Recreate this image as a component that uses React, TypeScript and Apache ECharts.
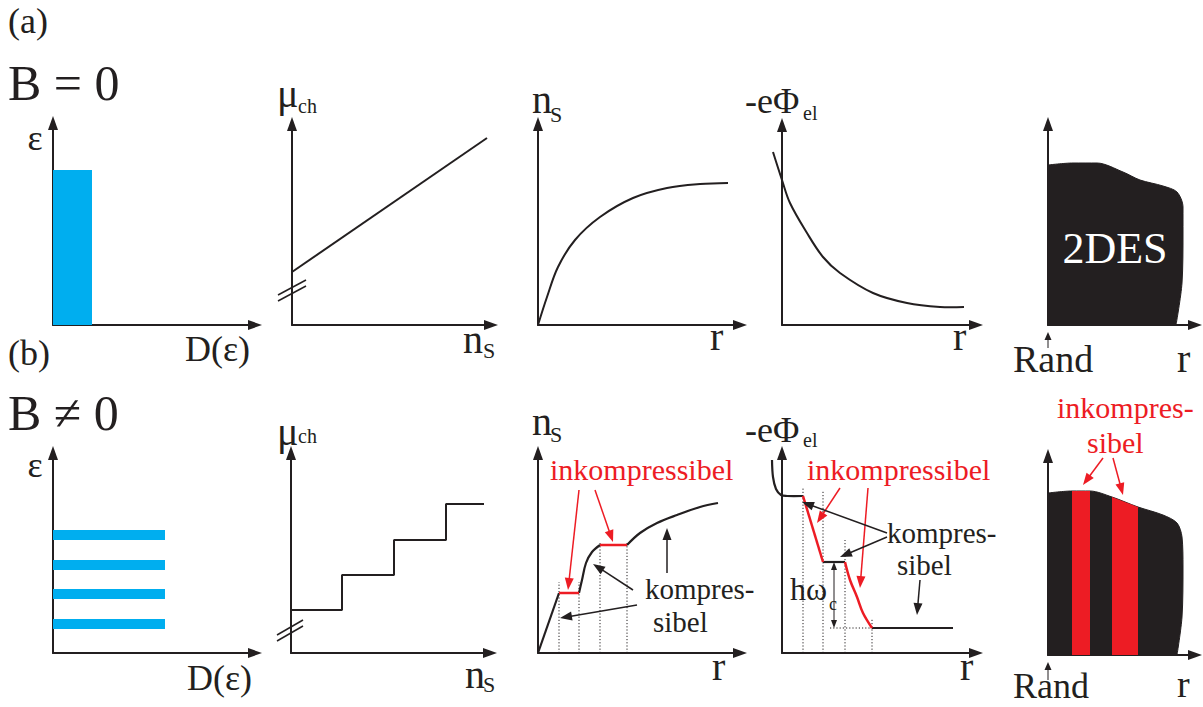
import React, { useEffect, useRef } from "react";
import * as echarts from "echarts";

const BLACK = "#231F20";
const BLUE = "#00AEEF";
const RED = "#ED1C24";
const FONT = "Liberation Serif";

// ---------- data (axis units, measured from the axis origin of each panel) ----------
// (a) B = 0
const a1Band = [[0, 39, 0, 155]]; // x0, x1, y0, y1 : density of states D(ε)
const a2Mu = [[0, 53], [195, 187]]; // μ_ch(n_S)
const a2Break = [
  [[-14, 24], [14, 39]],
  [[-14, 30], [14, 45]],
];
const a3Ns = [[0, 0], [9, 28], [20, 58], [37, 85], [62, 108], [95, 127], [129, 137], [162, 141], [190, 142]];
const a4Phi = [[-9, 173], [0, 145], [8, 122], [25, 92], [41, 68], [58, 52], [91, 32], [125, 22], [158, 18], [182, 18]];
const a5Edge = [[0, 160], [25, 162], [49, 162], [75, 153], [92, 145], [115, 139], [129, 133], [135, 118], [135, 92], [134, 42], [128, 0]];

// (b) B ≠ 0
const b1Levels = [29, 59, 88, 118]; // Landau levels
const b1LevelWidth = 112;
const b2Steps = [[0, 43], [51, 43], [51, 78], [103, 78], [103, 113], [155, 113], [155, 149], [193, 149]];
const b2Break = [
  [[-14, 12], [12, 27]],
  [[-14, 18], [12, 33]],
];
const b3Black = [
  [[0, 0], [21, 60]],
  [[41, 60], [44, 73], [48, 90], [54, 101], [62, 108]],
  [[89, 108], [102, 120], [119, 130], [139, 138], [162, 146], [180, 150]],
];
const b3Red = [
  [[21, 60], [41, 60]],
  [[62, 108], [89, 108]],
];
const b3Dotted = [
  [[21, 0], [21, 71]],
  [[41, 0], [41, 71]],
  [[62, 0], [62, 110]],
  [[89, 0], [89, 110]],
];
const b3RedArrows = [[41, 163, 30, 63, 0], [57, 163, 75, 111, 0]];
const b3BlackArrows = [[95, 63, 55, 89, 0], [99, 48, 22, 35, 0], [129, 80, 129, 125, 0]];

const b4Black = [
  [[-10, 193], [-9, 176], [-6, 164], [-1, 158], [5, 157], [21, 157]],
  [[41, 91], [63, 91]],
  [[90, 25], [171, 25]],
];
const b4Red = [
  [[21, 157], [41, 91]],
  [[63, 91], [68, 73], [75, 56], [81, 40], [90, 25]],
];
const b4Dotted = [
  [[21, 0], [21, 165]],
  [[41, 0], [41, 163]],
  [[63, 0], [63, 113]],
  [[90, 0], [90, 35]],
  [[48, 25], [90, 25]],
];
const b4Gap = [[52, 91, 52, 25, 1]]; // ħω_c
const b4RedArrows = [[58, 165, 35, 130, 0], [86, 165, 78, 65, 0]];
const b4BlackArrows = [[105, 120, 20, 151, 0], [105, 116, 58, 96, 0], [138, 73, 135, 38, 0]];

const b5Edge = [[0, 162], [24, 164], [42, 164], [64, 158], [90, 148], [115, 140], [129, 132], [134, 118], [135, 88], [134, 38], [129, 0]];
const b5Bands = [[24, 42, 164, 164], [64, 90, 158, 148]];
const b5RedArrows = [[55, 197, 35, 170, 0], [65, 197, 75, 160, 0]];
const randArrowA = [[0, -23, 0, -7, 0]];
const randArrowB = [[0, -25, 0, -7, 0]];

// ---------- layout: [originX, originY, width, height] of each panel's axes ----------
const frames = [
  [53, 325, 202, 202],
  [292, 325, 199, 201],
  [538, 325, 202, 201],
  [782, 325, 194, 200],
  [1048, 325, 147, 201],
  [53, 653, 202, 200],
  [291, 653, 199, 200],
  [538, 653, 202, 200],
  [782, 653, 194, 200],
  [1048, 655, 147, 199],
];

const axisBase = {
  type: "value",
  min: 0,
  axisTick: { show: false },
  axisLabel: { show: false },
  splitLine: { show: false },
  axisLine: {
    show: true,
    onZero: false,
    symbol: ["none", "triangle"],
    symbolSize: [10, 14],
    lineStyle: { color: BLACK, width: 2 },
  },
};

function line(g: number, data: any[], color: string, width: number, extra: any = {}) {
  return {
    type: "line",
    xAxisIndex: g,
    yAxisIndex: g,
    data,
    symbol: "none",
    showSymbol: false,
    clip: false,
    silent: true,
    z: 4,
    lineStyle: { color, width },
    ...extra,
  };
}

function smooth(g: number, data: any[], color: string, width: number) {
  return line(g, data, color, width, { smooth: 0.35 });
}

function dotted(g: number, data: any[]) {
  return line(g, data, BLACK, 1, { lineStyle: { color: BLACK, width: 1, type: [1.2, 2] }, z: 3 });
}

// polyline through the axes of grid g, not clipped to the plot area
function poly(g: number, pts: number[][], color: string, width: number, sm = 0) {
  return {
    type: "custom",
    xAxisIndex: g,
    yAxisIndex: g,
    data: [0],
    clip: false,
    silent: true,
    z: 4,
    renderItem: (_p: any, api: any) => ({
      type: "polyline",
      shape: { points: pts.map((p) => api.coord(p)), smooth: sm },
      style: { stroke: color, lineWidth: width, fill: null },
    }),
  };
}

function rects(g: number, data: any[], color: string) {
  return {
    type: "custom",
    xAxisIndex: g,
    yAxisIndex: g,
    data,
    clip: false,
    silent: true,
    z: 3,
    renderItem: (_p: any, api: any) => {
      const p0 = api.coord([api.value(0), api.value(2)]);
      const p1 = api.coord([api.value(1), api.value(3)]);
      return {
        type: "rect",
        shape: {
          x: Math.min(p0[0], p1[0]),
          y: Math.min(p0[1], p1[1]),
          width: Math.abs(p1[0] - p0[0]),
          height: Math.abs(p1[1] - p0[1]),
        },
        style: { fill: color },
      };
    },
  };
}

function bands(g: number, data: any[], color: string) {
  return {
    type: "custom",
    xAxisIndex: g,
    yAxisIndex: g,
    data,
    clip: false,
    silent: true,
    z: 5,
    renderItem: (_p: any, api: any) => {
      const x0 = api.value(0), x1 = api.value(1), t0 = api.value(2), t1 = api.value(3);
      return {
        type: "polygon",
        shape: { points: [api.coord([x0, 0]), api.coord([x0, t0]), api.coord([x1, t1]), api.coord([x1, 0])] },
        style: { fill: color },
      };
    },
  };
}

function arrows(g: number, data: any[], color: string, head = 12, half = 4.5, width = 1.5) {
  return {
    type: "custom",
    xAxisIndex: g,
    yAxisIndex: g,
    data,
    clip: false,
    silent: true,
    z: 6,
    renderItem: (_p: any, api: any) => {
      const a = api.coord([api.value(0), api.value(1)]);
      const b = api.coord([api.value(2), api.value(3)]);
      const both = api.value(4) === 1;
      const dx = b[0] - a[0], dy = b[1] - a[1];
      const L = Math.hypot(dx, dy) || 1;
      const ux = dx / L, uy = dy / L;
      const tri = (tip: number[], s: number) => {
        const bx = tip[0] - s * ux * head, by = tip[1] - s * uy * head;
        return {
          type: "polygon",
          shape: { points: [tip, [bx - uy * half, by + ux * half], [bx + uy * half, by - ux * half]] },
          style: { fill: color },
        };
      };
      const start = both ? [a[0] + ux * head * 0.8, a[1] + uy * head * 0.8] : a;
      const end = [b[0] - ux * head * 0.8, b[1] - uy * head * 0.8];
      const children: any[] = [
        { type: "line", shape: { x1: start[0], y1: start[1], x2: end[0], y2: end[1] }, style: { stroke: color, lineWidth: width } },
        tri(b, 1),
      ];
      if (both) children.push(tri(a, -1));
      return { type: "group", children };
    },
  };
}

function T(text: string, x: number, base: number, fs: number, fill = BLACK, align = "left") {
  return {
    type: "text",
    x,
    y: base - 0.34 * fs,
    z: 100,
    silent: true,
    style: { text, fill, fontSize: fs, fontFamily: FONT, align, verticalAlign: "middle" },
  };
}

function buildOption() {
  const grid = frames.map(([ox, oy, w, h]) => ({ left: ox, top: oy - h, width: w, height: h }));
  const xAxis = frames.map(([, , w], i) => ({ ...axisBase, gridIndex: i, max: w }));
  const yAxis = frames.map(([, , , h], i) => ({ ...axisBase, gridIndex: i, max: h }));

  const series: any[] = [];
  // (a)
  series.push(rects(0, a1Band, BLUE));
  series.push(line(1, a2Mu, BLACK, 2));
  a2Break.forEach((s) => series.push(poly(1, s, BLACK, 1.5)));
  series.push(smooth(2, a3Ns, BLACK, 2));
  series.push(poly(3, a4Phi, BLACK, 2, 0.35));
  series.push(
    line(4, a5Edge, BLACK, 1, { smooth: 0.3, areaStyle: { color: BLACK, opacity: 1 } })
  );
  series.push(arrows(4, randArrowA, BLACK, 8, 3.5, 1));

  // (b)
  series.push(rects(5, b1Levels.map((y) => [0, b1LevelWidth, y - 5, y + 5]), BLUE));
  series.push(line(6, b2Steps, BLACK, 2));
  b2Break.forEach((s) => series.push(poly(6, s, BLACK, 1.5)));

  b3Dotted.forEach((s) => series.push(dotted(7, s)));
  b3Black.forEach((s) => series.push(smooth(7, s, BLACK, 2.2)));
  b3Red.forEach((s) => series.push(line(7, s, RED, 2.5)));
  series.push(arrows(7, b3RedArrows, RED));
  series.push(arrows(7, b3BlackArrows, BLACK));

  b4Dotted.forEach((s) => series.push(dotted(8, s)));
  b4Black.forEach((s) => series.push(poly(8, s, BLACK, 2.2, 0.35)));
  b4Red.forEach((s) => series.push(smooth(8, s, RED, 2.5)));
  series.push(arrows(8, b4Gap, BLACK, 8, 3, 1));
  series.push(arrows(8, b4RedArrows, RED));
  series.push(arrows(8, b4BlackArrows, BLACK));

  series.push(
    line(9, b5Edge, BLACK, 1, { smooth: 0.3, areaStyle: { color: BLACK, opacity: 1 } })
  );
  series.push(bands(9, b5Bands, RED));
  series.push(arrows(9, b5RedArrows, RED));
  series.push(arrows(9, randArrowB, BLACK, 8, 3.5, 1));

  const graphic = [
    // row (a)
    T("(a)", 8, 33, 36),
    T("B = 0", 8, 100, 50),
    T("ε", 35, 150, 36, BLACK, "center"),
    T("D(ε)", 185, 361, 36),
    T("μ", 277, 107, 40),
    T("ch", 298, 113, 20),
    T("n", 463, 353, 40),
    T("S", 483, 358, 22),
    T("n", 532, 113, 40),
    T("S", 550, 122, 22),
    T("r", 710, 350, 40),
    T("-eΦ", 745, 113, 36),
    T("el", 803, 120, 20),
    T("r", 953, 350, 40),
    T("2DES", 1115, 263, 44, "#FFFFFF", "center"),
    T("Rand", 1013, 372, 38),
    T("r", 1177, 372, 40),
    // row (b)
    T("(b)", 8, 365, 36),
    T("B ≠ 0", 8, 430, 50),
    T("ε", 35, 477, 36, BLACK, "center"),
    T("D(ε)", 187, 690, 36),
    T("μ", 277, 445, 40),
    T("ch", 298, 443, 20),
    T("n", 465, 688, 40),
    T("S", 483, 692, 22),
    T("n", 532, 435, 40),
    T("S", 550, 442, 22),
    T("r", 712, 680, 40),
    T("inkompressibel", 550, 480, 30, RED),
    T("kompres-", 645, 599, 29),
    T("sibel", 653, 632, 29),
    T("-eΦ", 745, 442, 36),
    T("el", 803, 447, 20),
    T("r", 960, 680, 40),
    T("inkompressibel", 807, 480, 30, RED),
    T("kompres-", 887, 543, 29),
    T("sibel", 897, 575, 29),
    T("hω", 790, 600, 32),
    T("c", 829, 610, 18),
    T("inkompres-", 1057, 418, 30, RED),
    T("sibel", 1087, 453, 30, RED),
    T("Rand", 1013, 698, 36),
    T("r", 1177, 697, 38),
  ];

  return { animation: false, backgroundColor: "#FFFFFF", grid, xAxis, yAxis, series, graphic };
}

export default function App() {
  const ref = useRef<HTMLDivElement>(null);
  useEffect(() => {
    const chart = echarts.init(ref.current as HTMLDivElement, null, { renderer: "svg" });
    chart.setOption(buildOption() as any);
    return () => chart.dispose();
  }, []);
  return (
    <div
      ref={ref}
      style={{ position: "absolute", left: 0, top: 0, width: 1203, height: 707, background: "#fff" }}
    />
  );
}
